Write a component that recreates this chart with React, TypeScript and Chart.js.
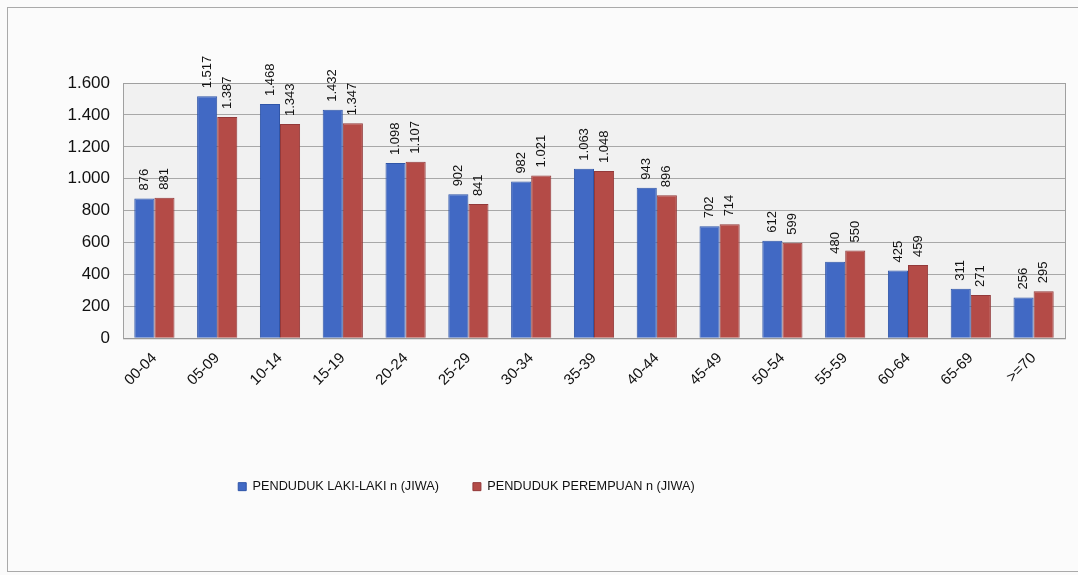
import React, { useEffect, useRef } from "react";
import { Chart, registerables } from "chart.js";

Chart.register(...registerables);

const categories = ["00-04", "05-09", "10-14", "15-19", "20-24", "25-29", "30-34", "35-39", "40-44", "45-49", "50-54", "55-59", "60-64", "65-69", ">=70"];
const maleValues = [876, 1517, 1468, 1432, 1098, 902, 982, 1063, 943, 702, 612, 480, 425, 311, 256];
const femaleValues = [881, 1387, 1343, 1347, 1107, 841, 1021, 1048, 896, 714, 599, 550, 459, 271, 295];
const seriesNames = ["PENDUDUK LAKI-LAKI n (JIWA)", "PENDUDUK PEREMPUAN n (JIWA)"];
const yTicks = [0, 200, 400, 600, 800, 1000, 1200, 1400, 1600];

const fmt = (v: number) => v.toLocaleString("de-DE");

const plotBg = {
  id: "plotBg",
  beforeDraw(chart: any) {
    const { ctx, chartArea: a } = chart;
    ctx.save();
    ctx.fillStyle = "#f1f1f1";
    ctx.fillRect(a.left, a.top, a.right - a.left, a.bottom - a.top);
    ctx.restore();
  },
  afterDatasetsDraw(chart: any) {
    const { ctx, chartArea: a } = chart;
    ctx.save();
    ctx.strokeStyle = "#a0a0a0";
    ctx.lineWidth = 1;
    ctx.strokeRect(a.left + 0.5, a.top + 0.5, a.right - a.left, a.bottom - a.top);
    ctx.restore();
  },
};

const valueLabels = {
  id: "valueLabels",
  afterDatasetsDraw(chart: any) {
    const { ctx } = chart;
    ctx.save();
    ctx.font = "13px 'Liberation Sans', Arial, sans-serif";
    ctx.fillStyle = "#111";
    ctx.textAlign = "left";
    ctx.textBaseline = "middle";
    chart.data.datasets.forEach((ds: any, di: number) => {
      const meta = chart.getDatasetMeta(di);
      meta.data.forEach((bar: any, i: number) => {
        ctx.save();
        ctx.translate(bar.x, bar.y - 8);
        ctx.rotate(-Math.PI / 2);
        ctx.fillText(fmt(ds.data[i]), 0, 0);
        ctx.restore();
      });
    });
    ctx.restore();
  },
};

const shiftLegend = {
  id: "shiftLegend",
  afterLayout(chart: any) {
    const lg = chart.legend;
    if (lg) {
      lg.left -= 66;
      lg.right -= 66;
    }
  },
};

export default function App() {
  const ref = useRef<HTMLCanvasElement | null>(null);
  useEffect(() => {
    if (!ref.current) return;
    const chart = new Chart(ref.current, {
      type: "bar",
      data: {
        labels: categories,
        datasets: [
          {
            label: seriesNames[0],
            data: maleValues,
            backgroundColor: "#4169c4",
            borderColor: "#2f55a8",
            borderWidth: 1,
            categoryPercentage: 0.64,
            barPercentage: 1,
          },
          {
            label: seriesNames[1],
            data: femaleValues,
            backgroundColor: "#b44b47",
            borderColor: "#93393a",
            borderWidth: 1,
            categoryPercentage: 0.64,
            barPercentage: 1,
          },
        ],
      },
      options: {
        animation: false,
        responsive: false,
        maintainAspectRatio: false,
        layout: { padding: { left: 0, right: 13, top: 83, bottom: 72 } },
        scales: {
          x: {
            grid: { display: false },
            border: { color: "#888" },
            ticks: {
              color: "#111",
              font: { family: "'Liberation Sans', Arial, sans-serif", size: 15 },
              maxRotation: 45,
              minRotation: 45,
              autoSkip: false,
            },
            afterFit(axis: any) {
              axis.height = 108;
            },
          },
          y: {
            min: 0,
            max: 1600,
            afterBuildTicks(axis: any) {
              axis.ticks = yTicks.map((v) => ({ value: v }));
            },
            grid: { color: "#a8a8a8", drawTicks: false },
            border: { display: false },
            ticks: {
              color: "#111",
              padding: 13,
              font: { family: "'Liberation Sans', Arial, sans-serif", size: 17 },
              callback: (v: any) => fmt(Number(v)),
            },
            afterFit(axis: any) {
              axis.width = 123;
            },
          },
        },
        plugins: {
          legend: {
            position: "bottom",
            labels: {
              boxWidth: 8,
              boxHeight: 8,
              padding: 34,
              color: "#111",
              font: { family: "'Liberation Sans', Arial, sans-serif", size: 12.7 },
            },
          },
          tooltip: { enabled: false },
        },
      },
      plugins: [plotBg, valueLabels, shiftLegend],
    });
    return () => chart.destroy();
  }, []);
  return (
    <div style={{ position: "fixed", left: 0, top: 0, width: 1078, height: 575, background: "#fbfbfb" }}>
      <div style={{ position: "absolute", left: 7, top: 7, width: 1080, height: 565, border: "1px solid #aaa", boxSizing: "border-box" }} />
      <canvas ref={ref} width={1078} height={575} style={{ position: "absolute", left: 0, top: 0 }} />
    </div>
  );
}
